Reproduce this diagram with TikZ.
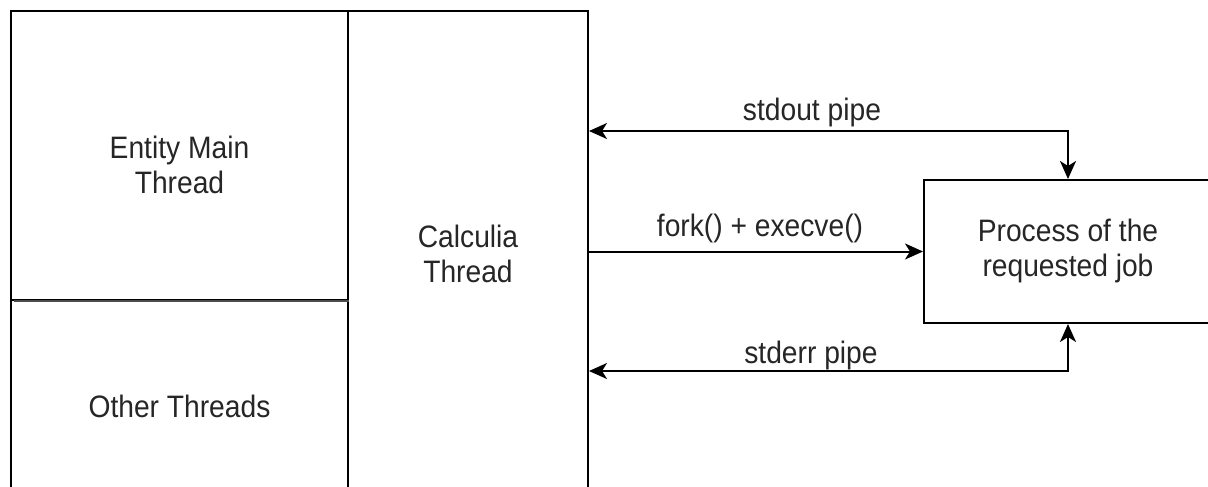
\documentclass[tikz,border=0pt]{standalone}
\usepackage{fontspec}
\setmainfont{Liberation Sans}[FakeStretch=0.91]
\usetikzlibrary{arrows.meta}
\newcommand\lblfont{\fontsize{31}{35}\selectfont}
\begin{document}
\begin{tikzpicture}[x=1pt,y=-1pt,
  frame/.style={draw=black,line width=2pt,rectangle,inner sep=0pt},
  txt/.style={inner sep=0pt,align=center,font=\lblfont,text=black!85},
  tip/.style={Stealth[length=18pt,width=16pt,inset=5pt]},
  wire/.style={line width=2pt,draw=black,arrows={Stealth[length=18pt,width=16pt,inset=5pt]-Stealth[length=18pt,width=16pt,inset=5pt]}},
  onearrow/.style={line width=2pt,draw=black,-{Stealth[length=18pt,width=16pt,inset=5pt]}},
  split/.style={line width=2.5pt,draw=black!70}]
\useasboundingbox (0,0) rectangle (1208,487);
\clip (0,0) rectangle (1208,487);
\fill[white] (0,0) rectangle (1208,487);

% thread boxes (they run on past the lower edge)
\node[frame,minimum width=337pt,minimum height=289pt] (main) at (179.5,155.5) {};
\node[frame,minimum width=337pt,minimum height=250pt] (other) at (179.5,425) {};
\node[frame,minimum width=240pt,minimum height=540pt] (calc) at (468,281) {};
% process box (runs on past the right edge)
\node[frame,minimum width=288pt,minimum height=143pt] (proc) at (1068,251.5) {};
% divider between the two left boxes
\draw[split] ([xshift=4pt]main.south west) -- (main.south east);

% box texts
\node[txt] (mainlbl) at (179.5,165) {Entity Main\\Thread};
\node[txt] (otherlbl) at (179.5,406) {Other Threads};
\node[txt] (calclbl) at (468,254) {Calculia\\Thread};
\node[txt] (proclbl) at (1068,250.5) {Process of the\\requested job};

% pipe levels
\coordinate (outlvl) at (0,131);
\coordinate (errlvl) at (0,371);

% connectors
\draw[wire] (calc.east |- outlvl) -| (proc.north);
\draw[onearrow] (calc.east |- proc.west) -- (proc.west);
\draw[wire] (calc.east |- errlvl) -| (proc.south);

% connector labels
\node[txt,anchor=base] (outlbl) at (812,120) {stdout pipe};
\node[txt,anchor=base] (forklbl) at (760,236) {fork() + execve()};
\node[txt,anchor=base] (errlbl) at (811,363) {stderr pipe};
\end{tikzpicture}
\end{document}
